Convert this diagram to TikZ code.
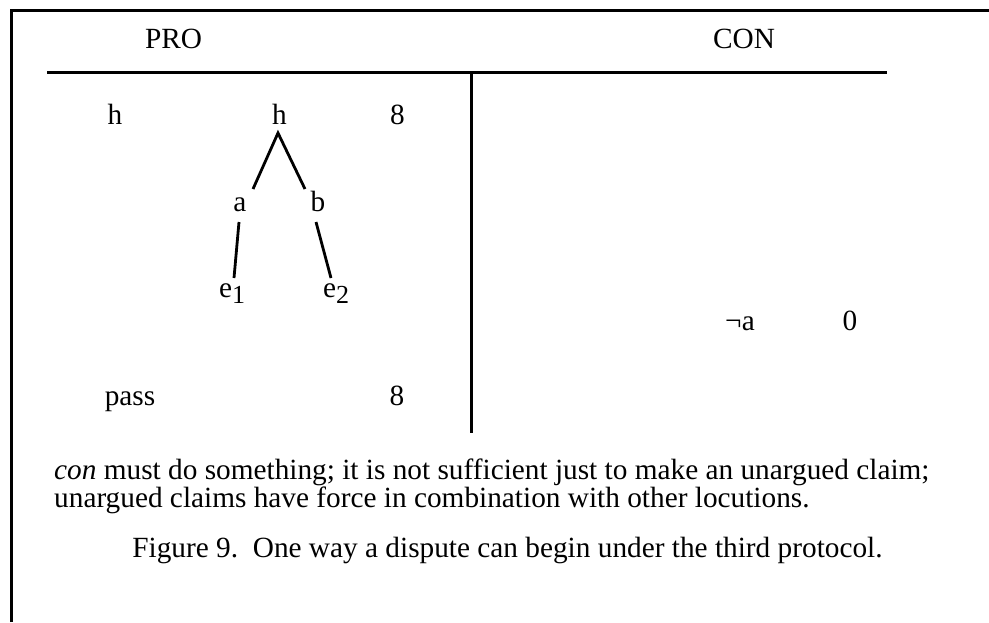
\documentclass[tikz,border=0pt]{standalone}
\usepackage{fontspec}
\setmainfont{Liberation Serif}
\newcommand{\subdn}[1]{\raisebox{-6pt}{\fontsize{26}{26}\selectfont #1}}
\begin{document}
\begin{tikzpicture}[x=1pt,y=-1pt,
  txt/.style={inner sep=0pt,anchor=base,font=\fontsize{29.3}{30}\selectfont},
  para/.style={inner sep=0pt,anchor=north west,align=left,font=\fontsize{29.3}{26}\selectfont},
  rule/.style={line width=3pt},
  edge/.style={line width=2.8pt}]
\useasboundingbox (0,0) rectangle (989,622);
% frame
\draw[rule] (11,622) -- (11,10) -- (989,10);
% headers
\node[txt] (pro) at (173.5,48) {PRO};
\node[txt] (con) at (744,48) {CON};
\draw[rule] (47,72) -- (887,72);
\draw[rule] (471,72) -- (471,433);
% PRO column
\node[txt] (h1) at (115,124) {h};
\node[txt] (h2) at (279.5,124) {h};
\node[txt] (n8a) at (397.5,124) {8};
\node[txt] (a) at (240,211) {a};
\node[txt] (b) at (318,211) {b};
\node[txt,anchor=base west] (e1) at (219,297) {e\subdn{1}};
\node[txt,anchor=base west] (e2) at (323,297) {e\subdn{2}};
\coordinate (apex) at ([shift={(-1.5,9)}]h2.base);
\draw[edge] ([shift={(13,-22)}]a.base) -- (apex) -- ([shift={(-13,-22)}]b.base);
\draw[edge] ([shift={(-1,11)}]a.base) -- ([shift={(15,-19)}]e1.base west);
\draw[edge] ([shift={(-2,11)}]b.base) -- ([shift={(8,-19)}]e2.base west);
\node[txt] (pass) at (130,405) {pass};
\node[txt] (n8b) at (397,405) {8};
% CON column
\node[txt] (nota) at (740,330) {¬a};
\node[txt] (zero) at (850,330) {0};
% text
\node[para] (para) at (54,459) {\textit{con} must do something; it is not sufficient just to make an unargued claim;\\unargued claims have force in combination with other locutions.};
\node[txt] (cap) at (507.5,557) {Figure 9.\ \ One way a dispute can begin under the third protocol.};
\end{tikzpicture}
\end{document}
